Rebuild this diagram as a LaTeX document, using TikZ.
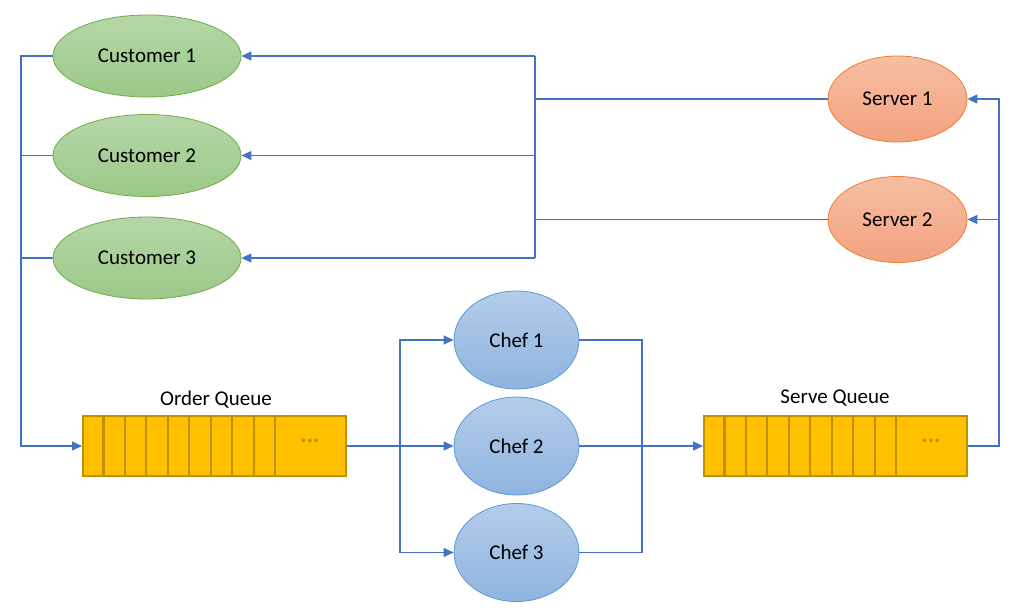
\documentclass[tikz,border=0pt]{standalone}
\usepackage{fontspec}
\setmainfont{Carlito}
\usetikzlibrary{arrows.meta,calc,shapes.geometric}
\definecolor{lineblue}{HTML}{4472C4}
\definecolor{gtop}{HTML}{B6D7A8}
\definecolor{gbot}{HTML}{9BC888}
\definecolor{gbord}{HTML}{70AD47}
\definecolor{otop}{HTML}{F6BEA3}
\definecolor{obot}{HTML}{F4A27F}
\definecolor{obord}{HTML}{ED7D31}
\definecolor{btop}{HTML}{B4CCEA}
\definecolor{bbot}{HTML}{8FB4E0}
\definecolor{bbord}{HTML}{5B9BD5}
\definecolor{qfill}{HTML}{FFC000}
\definecolor{qbord}{HTML}{BF9000}
\tikzset{
  conn/.style={draw=lineblue, line width=1.3pt},
  arr/.style={conn, -{Triangle[length=10pt,width=9pt]}},
  txt/.style={font=\fontsize{21}{24}\selectfont},
  cust/.style={ellipse, draw=gbord, line width=0.8pt, top color=gtop, bottom color=gbot, minimum width=188pt, minimum height=82pt, txt, inner sep=0pt},
  serv/.style={ellipse, draw=obord, line width=0.8pt, top color=otop, bottom color=obot, minimum width=139pt, minimum height=86pt, txt, inner sep=0pt},
  chef/.style={ellipse, draw=bbord, line width=0.8pt, top color=btop, bottom color=bbot, minimum width=125pt, minimum height=98pt, txt, inner sep=0pt},
  queue/.style={rectangle, draw=qbord, line width=2pt, fill=qfill, minimum width=263pt, minimum height=60pt, inner sep=0pt},
  qdiv/.style={draw=qbord, line width=2.2pt},
}
\begin{document}
\begin{tikzpicture}[x=1pt,y=-1pt]
\useasboundingbox[fill=white] (0,0) rectangle (1024,612);
% nodes
\node[cust] (c1) at (147,56) {Customer 1};
\node[cust] (c2) at (147,155.5) {Customer 2};
\node[cust] (c3) at (147,258) {Customer 3};
\node[serv] (s1) at (897.5,99) {Server 1};
\node[serv] (s2) at (897.5,219.5) {Server 2};
\node[chef] (f1) at (516.5,340) {Chef 1};
\node[chef] (f2) at (516.5,446) {Chef 2};
\node[chef] (f3) at (516.5,552.5) {Chef 3};
\node[queue] (oq) at (214.5,446) {};
\node[queue] (sq) at (835.5,446) {};
\foreach \q in {oq,sq}{
  \foreach \k in {1,...,9}{
    \draw[qdiv] ($(\q.north west)+(21.45*\k,0)$) -- ($(\q.south west)+(21.45*\k,0)$);
  }
  \node[text=qbord, font=\fontsize{24}{26}\selectfont\bfseries] at ($(\q.west)+(228,-5)$) {...};
}
\node[txt] (oql) at (216,400) {Order Queue};
\node[txt] (sql) at (835,398) {Serve Queue};
% coordinates
\coordinate (lb1) at (21,56);
\coordinate (lb2) at (21,155.5);
\coordinate (lb3) at (21,258);
\coordinate (lbq) at (21,446);
\coordinate (mb1) at (535,56);
\coordinate (mb2) at (535,155.5);
\coordinate (mb3) at (535,258);
\coordinate (ms1) at (535,99);
\coordinate (ms2) at (535,219.5);
\coordinate (cb1) at (400,340);
\coordinate (cb2) at (400,446);
\coordinate (cb3) at (400,552.5);
\coordinate (rb1) at (642,340);
\coordinate (rb3) at (642,552.5);
\coordinate (sb1) at (999,99);
\coordinate (sb2) at (999,219.5);
\coordinate (sbq) at (999,446);
% customers to order queue
\draw[conn] (c2.west) -- (lb2);
\draw[conn] (c3.west) -- (lb3);
\draw[arr] (c1.west) -- (lb1) -- (lbq) -- (oq.west);
% servers to customers
\draw[conn] (s1.west) -- (ms1);
\draw[conn] (s2.west) -- (ms2);
\draw[conn] (mb1) -- (mb3);
\draw[arr] (mb1) -- (c1.east);
\draw[arr] (mb2) -- (c2.east);
\draw[arr] (mb3) -- (c3.east);
% order queue to chefs
\draw[arr] (oq.east) -- (f2.west);
\draw[arr] (cb2) -- (cb1) -- (f1.west);
\draw[arr] (cb2) -- (cb3) -- (f3.west);
% chefs to serve queue
\draw[conn] (f1.east) -- (rb1) -- (rb3) -- (f3.east);
\draw[arr] (f2.east) -- (sq.west);
% serve queue to servers
\draw[arr] (sq.east) -- (sbq) -- (sb1) -- (s1.east);
\draw[arr] (sb2) -- (s2.east);
\end{tikzpicture}
\end{document}
